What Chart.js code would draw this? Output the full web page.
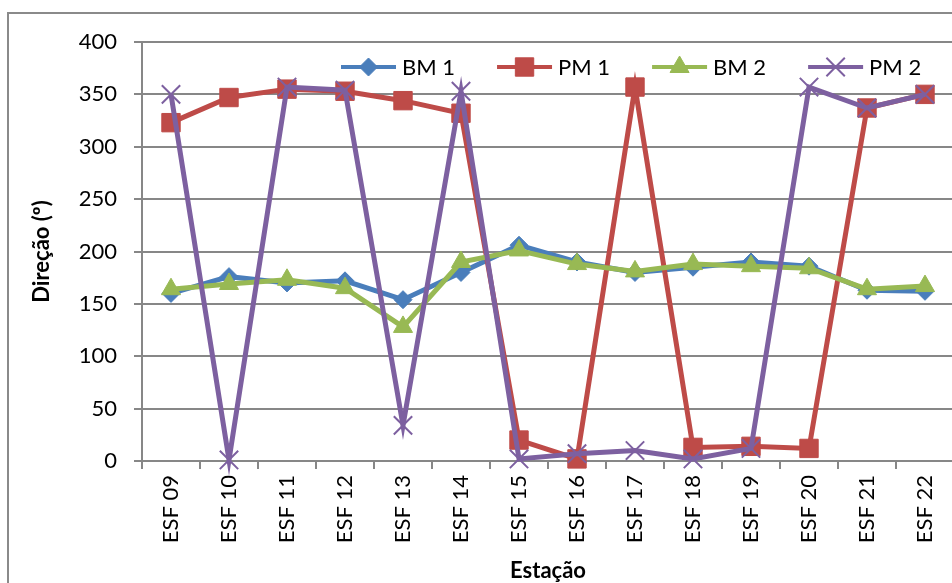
<!DOCTYPE html>
<html>
<head>
<meta charset="utf-8">
<script src="https://cdn.jsdelivr.net/npm/chart.js@4.4.1/dist/chart.umd.min.js"></script>
<style>
  html, body { margin: 0; padding: 0; background: #fff; overflow: hidden; }
  #frame { position: absolute; left: 7px; top: 12px; width: 1000px; height: 700px;
           border-left: 2px solid #8a8a8a; border-top: 2px solid #8a8a8a; }
  #wrap { position: absolute; left: 0; top: 0; width: 975px; height: 590px; }
</style>
</head>
<body>
<div id="frame"></div>
<div id="wrap"><canvas id="dirChart"></canvas></div>
<script>
// categorias (estações)
const estacoes = ['ESF 09', 'ESF 10', 'ESF 11', 'ESF 12', 'ESF 13', 'ESF 14', 'ESF 15',
                  'ESF 16', 'ESF 17', 'ESF 18', 'ESF 19', 'ESF 20', 'ESF 21', 'ESF 22'];

// direção (graus) por série
const bm1 = [160, 176, 170, 172, 154, 180, 206, 190, 180, 185, 190, 186, 163, 162];
const pm1 = [323, 347, 355, 353, 344, 332, 20, 2, 357, 13, 14, 12, 337, 350];
const bm2 = [164, 169, 173, 165, 128, 190, 201, 188, 181, 188, 186, 184, 164, 167];
const pm2 = [350, 1, 357, 354, 34, 353, 2, 7, 10, 2, 12, 357, 337, 350];

const yTicks = [0, 50, 100, 150, 200, 250, 300, 350, 400];

const FONT = 'Lato, "Open Sans", sans-serif';
const GRID = '#878787';

// legenda no estilo Excel (linha + marcador), dentro da área do gráfico
const excelLegend = {
  id: 'excelLegend',
  afterDraw(chart) {
    const ctx = chart.ctx;
    const area = chart.chartArea;
    const y = 67;
    let x = area.left + 199;
    ctx.save();
    ctx.font = '22px ' + FONT;
    ctx.textBaseline = 'middle';
    ctx.textAlign = 'left';
    chart.data.datasets.forEach(ds => {
      ctx.strokeStyle = ds.borderColor;
      ctx.lineWidth = 4;
      ctx.beginPath();
      ctx.moveTo(x, y);
      ctx.lineTo(x + 55, y);
      ctx.stroke();
      // marcador com as mesmas cores da série
      ctx.fillStyle = ds.pointBackgroundColor;
      ctx.strokeStyle = ds.pointBorderColor;
      ctx.lineWidth = ds.pointBorderWidth;
      Chart.helpers.drawPoint(ctx, {
        pointStyle: ds.pointStyle,
        radius: ds.pointRadius,
        borderWidth: ds.pointBorderWidth,
        rotation: 0
      }, x + 27.5, y);
      ctx.fillStyle = '#000';
      ctx.fillText(ds.label, x + 61, y + 1);
      const w = ctx.measureText(ds.label).width;
      x += 55 + 6 + w + 42;
    });
    ctx.restore();
  }
};

function serie(label, data, color, style, radius, order) {
  return {
    label: label,
    data: data,
    borderColor: color,
    backgroundColor: color,
    borderWidth: 5,
    pointStyle: style,
    pointRadius: radius,
    pointHoverRadius: radius,
    pointBackgroundColor: color,
    pointBorderColor: color,
    pointBorderWidth: style === 'crossRot' ? 2 : 1,
    tension: 0,
    clip: false,
    order: order
  };
}

const ctx = document.getElementById('dirChart').getContext('2d');
new Chart(ctx, {
  type: 'line',
  data: {
    labels: estacoes,
    datasets: [
      serie('BM 1', bm1, '#4a7ebb', 'rectRot', 9, 4),
      serie('PM 1', pm1, '#be4b48', 'rect', 13, 3),
      serie('BM 2', bm2, '#98b954', 'triangle', 11, 2),
      serie('PM 2', pm2, '#7d60a0', 'crossRot', 13, 1)
    ]
  },
  options: {
    responsive: true,
    maintainAspectRatio: false,
    animation: false,
    layout: { padding: { top: 42, right: 21, left: 0, bottom: 0 } },
    plugins: {
      legend: { display: false },
      tooltip: { enabled: false }
    },
    scales: {
      x: {
        type: 'category',
        offset: true,
        grid: { drawOnChartArea: false, drawTicks: true, tickLength: 8, color: GRID, lineWidth: 2, offset: true },
        border: { color: GRID, width: 2 },
        ticks: {
          autoSkip: false, maxRotation: 90, minRotation: 90, padding: 6,
          color: '#000', font: { family: FONT, size: 22 }
        },
        title: {
          display: true, text: 'Estação', color: '#000',
          font: { family: FONT, size: 22, weight: 'bold' },
          padding: { top: 0, bottom: 6 }
        },
        afterFit(scale) { scale.height = 129; }
      },
      y: {
        min: 0, max: 400,
        afterBuildTicks(scale) { scale.ticks = yTicks.map(v => ({ value: v })); },
        grid: { drawTicks: true, tickLength: 8, color: GRID, lineWidth: 2 },
        border: { color: GRID, width: 2 },
        ticks: { padding: 17, color: '#000', font: { family: FONT, size: 22 } },
        title: {
          display: true, text: 'Direção (º)', color: '#000',
          font: { family: FONT, size: 22, weight: 'bold' },
          padding: { top: 29, bottom: 0 }
        },
        afterFit(scale) { scale.width = 142; }
      }
    }
  },
  plugins: [excelLegend]
});
</script>
</body>
</html>
